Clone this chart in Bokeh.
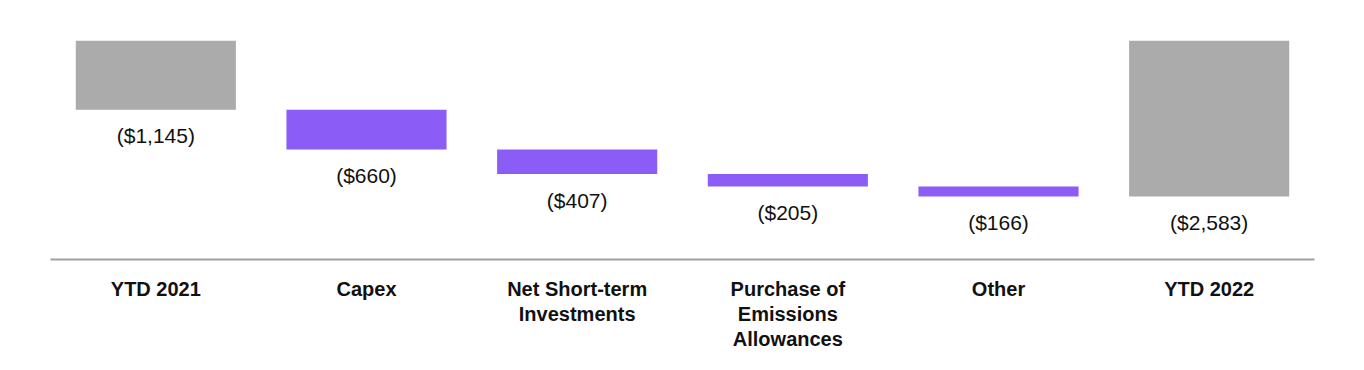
from bokeh.plotting import figure
from bokeh.models import ColumnDataSource, Range1d, FactorRange
from bokeh.core.properties import value
from bokeh.embed import file_html
from bokeh.resources import INLINE

categories = ["YTD 2021", "Capex", "Net Short-term\nInvestments",
              "Purchase of\nEmissions\nAllowances", "Other", "YTD 2022"]
amounts = [-1145, -660, -407, -205, -166, -2583]
labels = ["($1,145)", "($660)", "($407)", "($205)", "($166)", "($2,583)"]
kinds = ["total", "step", "step", "step", "step", "total"]

tops, bottoms = [], []
running = 0
for a, k in zip(amounts, kinds):
    if k == "total":
        tops.append(0)
        bottoms.append(a)
        running = a
    else:
        tops.append(running)
        running += a
        bottoms.append(running)

colors = ["#ABABAB" if k == "total" else "#8B5CF6" for k in kinds]

src = ColumnDataSource(dict(x=categories, top=tops, bottom=bottoms,
                            color=colors, label=labels))

p = figure(width=1348, height=354, x_range=FactorRange(*categories, range_padding=0),
           y_range=Range1d(-3626, 0), output_backend="svg", toolbar_location=None,
           min_border_left=50, min_border_right=34, min_border_top=40,
           min_border_bottom=95)
p.outline_line_color = None
p.grid.visible = False
p.yaxis.visible = False
p.background_fill_color = "white"

p.vbar(x="x", top="top", bottom="bottom", width=0.76, fill_color="color",
       line_color=None, source=src)
p.text(x="x", y="bottom", text="label", source=src, y_offset=26,
       text_align="center", text_baseline="middle",
       text_font=value("Liberation Sans"), text_font_size="21px",
       text_color="#111111")

ax = p.xaxis[0]
ax.axis_line_color = "#A0A0A0"
ax.axis_line_width = 2
ax.major_tick_line_color = None
ax.minor_tick_line_color = None
ax.major_label_standoff = 12
ax.major_label_text_font = "Liberation Sans"
ax.major_label_text_font_style = "bold"
ax.major_label_text_font_size = "20px"
ax.major_label_text_color = "#111111"
ax.major_label_text_line_height = 1.15

open("out.html", "w").write(file_html(p, INLINE))
